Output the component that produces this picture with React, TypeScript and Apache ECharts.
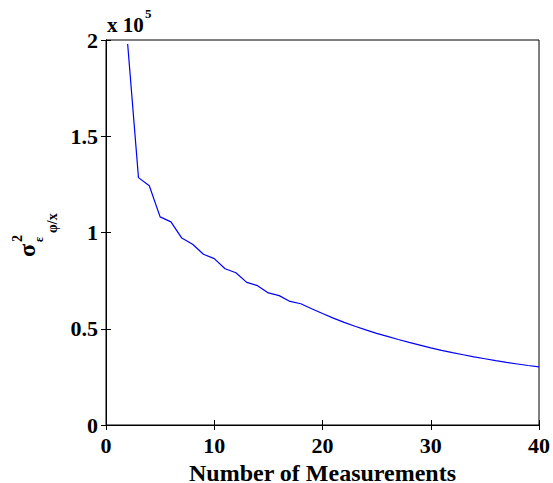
import React, { useEffect, useRef } from "react";
import * as echarts from "echarts";

// Number of measurements (x) and the resulting error variance (y, raw units)
const measurements = [
  2, 3, 4, 5, 6, 7, 8, 9, 10, 11, 12, 13, 14, 15, 16, 17, 18, 19, 20, 21,
  22, 23, 24, 25, 26, 27, 28, 29, 30, 31, 32, 33, 34, 35, 36, 37, 38, 39, 40,
];
const variance = [
  198000, 128500, 124300, 108100, 105500, 97100, 93900, 88700, 86400, 81200,
  79100, 74100, 72400, 68600, 67200, 64200, 63000, 60400, 57900, 55500,
  53300, 51300, 49400, 47600, 46000, 44400, 42900, 41500, 40100, 38800,
  37600, 36500, 35400, 34400, 33400, 32500, 31700, 30900, 30200,
];
const xTicks = [0, 10, 20, 30, 40];
const yTicks = [0, 0.5, 1, 1.5, 2];
const yScale = 1e5;

const FONT = "Liberation Serif";

export default function App() {
  const ref = useRef<HTMLDivElement>(null);

  useEffect(() => {
    if (!ref.current) return;
    const chart = echarts.init(ref.current, undefined, { renderer: "svg" });

    const labelStyle = {
      color: "#000",
      fontFamily: FONT,
      fontWeight: "bold" as const,
      fontSize: 22,
    };

    const xMin = xTicks[0];
    const xMax = xTicks[xTicks.length - 1];
    const xInterval = xTicks[1] - xTicks[0];
    const yMin = yTicks[0] * yScale;
    const yMax = yTicks[yTicks.length - 1] * yScale;
    const yInterval = (yTicks[1] - yTicks[0]) * yScale;

    const tickStyle = {
      show: true,
      inside: true,
      length: 5,
      lineStyle: { color: "#000", width: 1 },
    };

    const txt = (text: string, size: number, x: number, y: number) => ({
      type: "text",
      x,
      y,
      style: {
        text,
        fill: "#000",
        fontFamily: FONT,
        fontWeight: "bold",
        fontSize: size,
        verticalAlign: "middle",
        align: "left",
      },
    });

    chart.setOption({
      animation: false,
      backgroundColor: "#fff",
      grid: {
        left: 106,
        top: 40,
        right: 14,
        bottom: 58,
        outerBoundsMode: "none",
        containLabel: false,
        show: true,
        borderColor: "#000",
        borderWidth: 1,
        backgroundColor: "#fff",
      },
      xAxis: [
        {
          type: "value",
          min: xMin,
          max: xMax,
          interval: xInterval,
          position: "bottom",
          axisLine: { show: true, lineStyle: { color: "#000", width: 1 } },
          axisTick: tickStyle,
          axisLabel: { ...labelStyle, margin: 9 },
          splitLine: { show: false },
          name: "Number of Measurements",
          nameLocation: "middle",
          nameGap: 26,
          nameTextStyle: { ...labelStyle, fontSize: 24, lineHeight: 24 },
        },
        {
          type: "value",
          min: xMin,
          max: xMax,
          interval: xInterval,
          position: "top",
          axisLine: { show: true, lineStyle: { color: "#000", width: 1 } },
          axisTick: tickStyle,
          axisLabel: { show: false },
          splitLine: { show: false },
        },
      ],
      yAxis: [
        {
          type: "value",
          min: yMin,
          max: yMax,
          interval: yInterval,
          position: "left",
          axisLine: { show: true, lineStyle: { color: "#000", width: 1 } },
          axisTick: tickStyle,
          axisLabel: {
            ...labelStyle,
            margin: 8,
            formatter: (v: number) => String(v / yScale),
          },
          splitLine: { show: false },
        },
        {
          type: "value",
          min: yMin,
          max: yMax,
          interval: yInterval,
          position: "right",
          axisLine: { show: true, lineStyle: { color: "#000", width: 1 } },
          axisTick: tickStyle,
          axisLabel: { show: false },
          splitLine: { show: false },
        },
      ],
      series: [
        {
          type: "line",
          xAxisIndex: 0,
          yAxisIndex: 0,
          data: measurements.map((m, i) => [m, variance[i]]),
          showSymbol: false,
          symbol: "none",
          clip: true,
          lineStyle: { color: "#0000ff", width: 1.2 },
        },
      ],
      graphic: [
        // axis multiplier "x 10^5"
        txt("x 10", 21, 107, 25),
        txt("5", 13, 145, 13),
        // rotated y-axis label: sigma^2 sub epsilon sub phi/x
        {
          type: "group",
          x: 35,
          y: 257,
          rotation: Math.PI / 2,
          children: [
            txt("σ", 24, 0, -8.2),
            txt("2", 14, 15, -17.8),
            txt("ε", 12, 15, 3.9),
            txt("φ/x", 14, 24, 17.2),
          ],
        },
      ],
    });

    return () => chart.dispose();
  }, []);

  return (
    <div
      ref={ref}
      style={{ position: "absolute", left: 0, top: 0, width: 553, height: 483 }}
    />
  );
}
